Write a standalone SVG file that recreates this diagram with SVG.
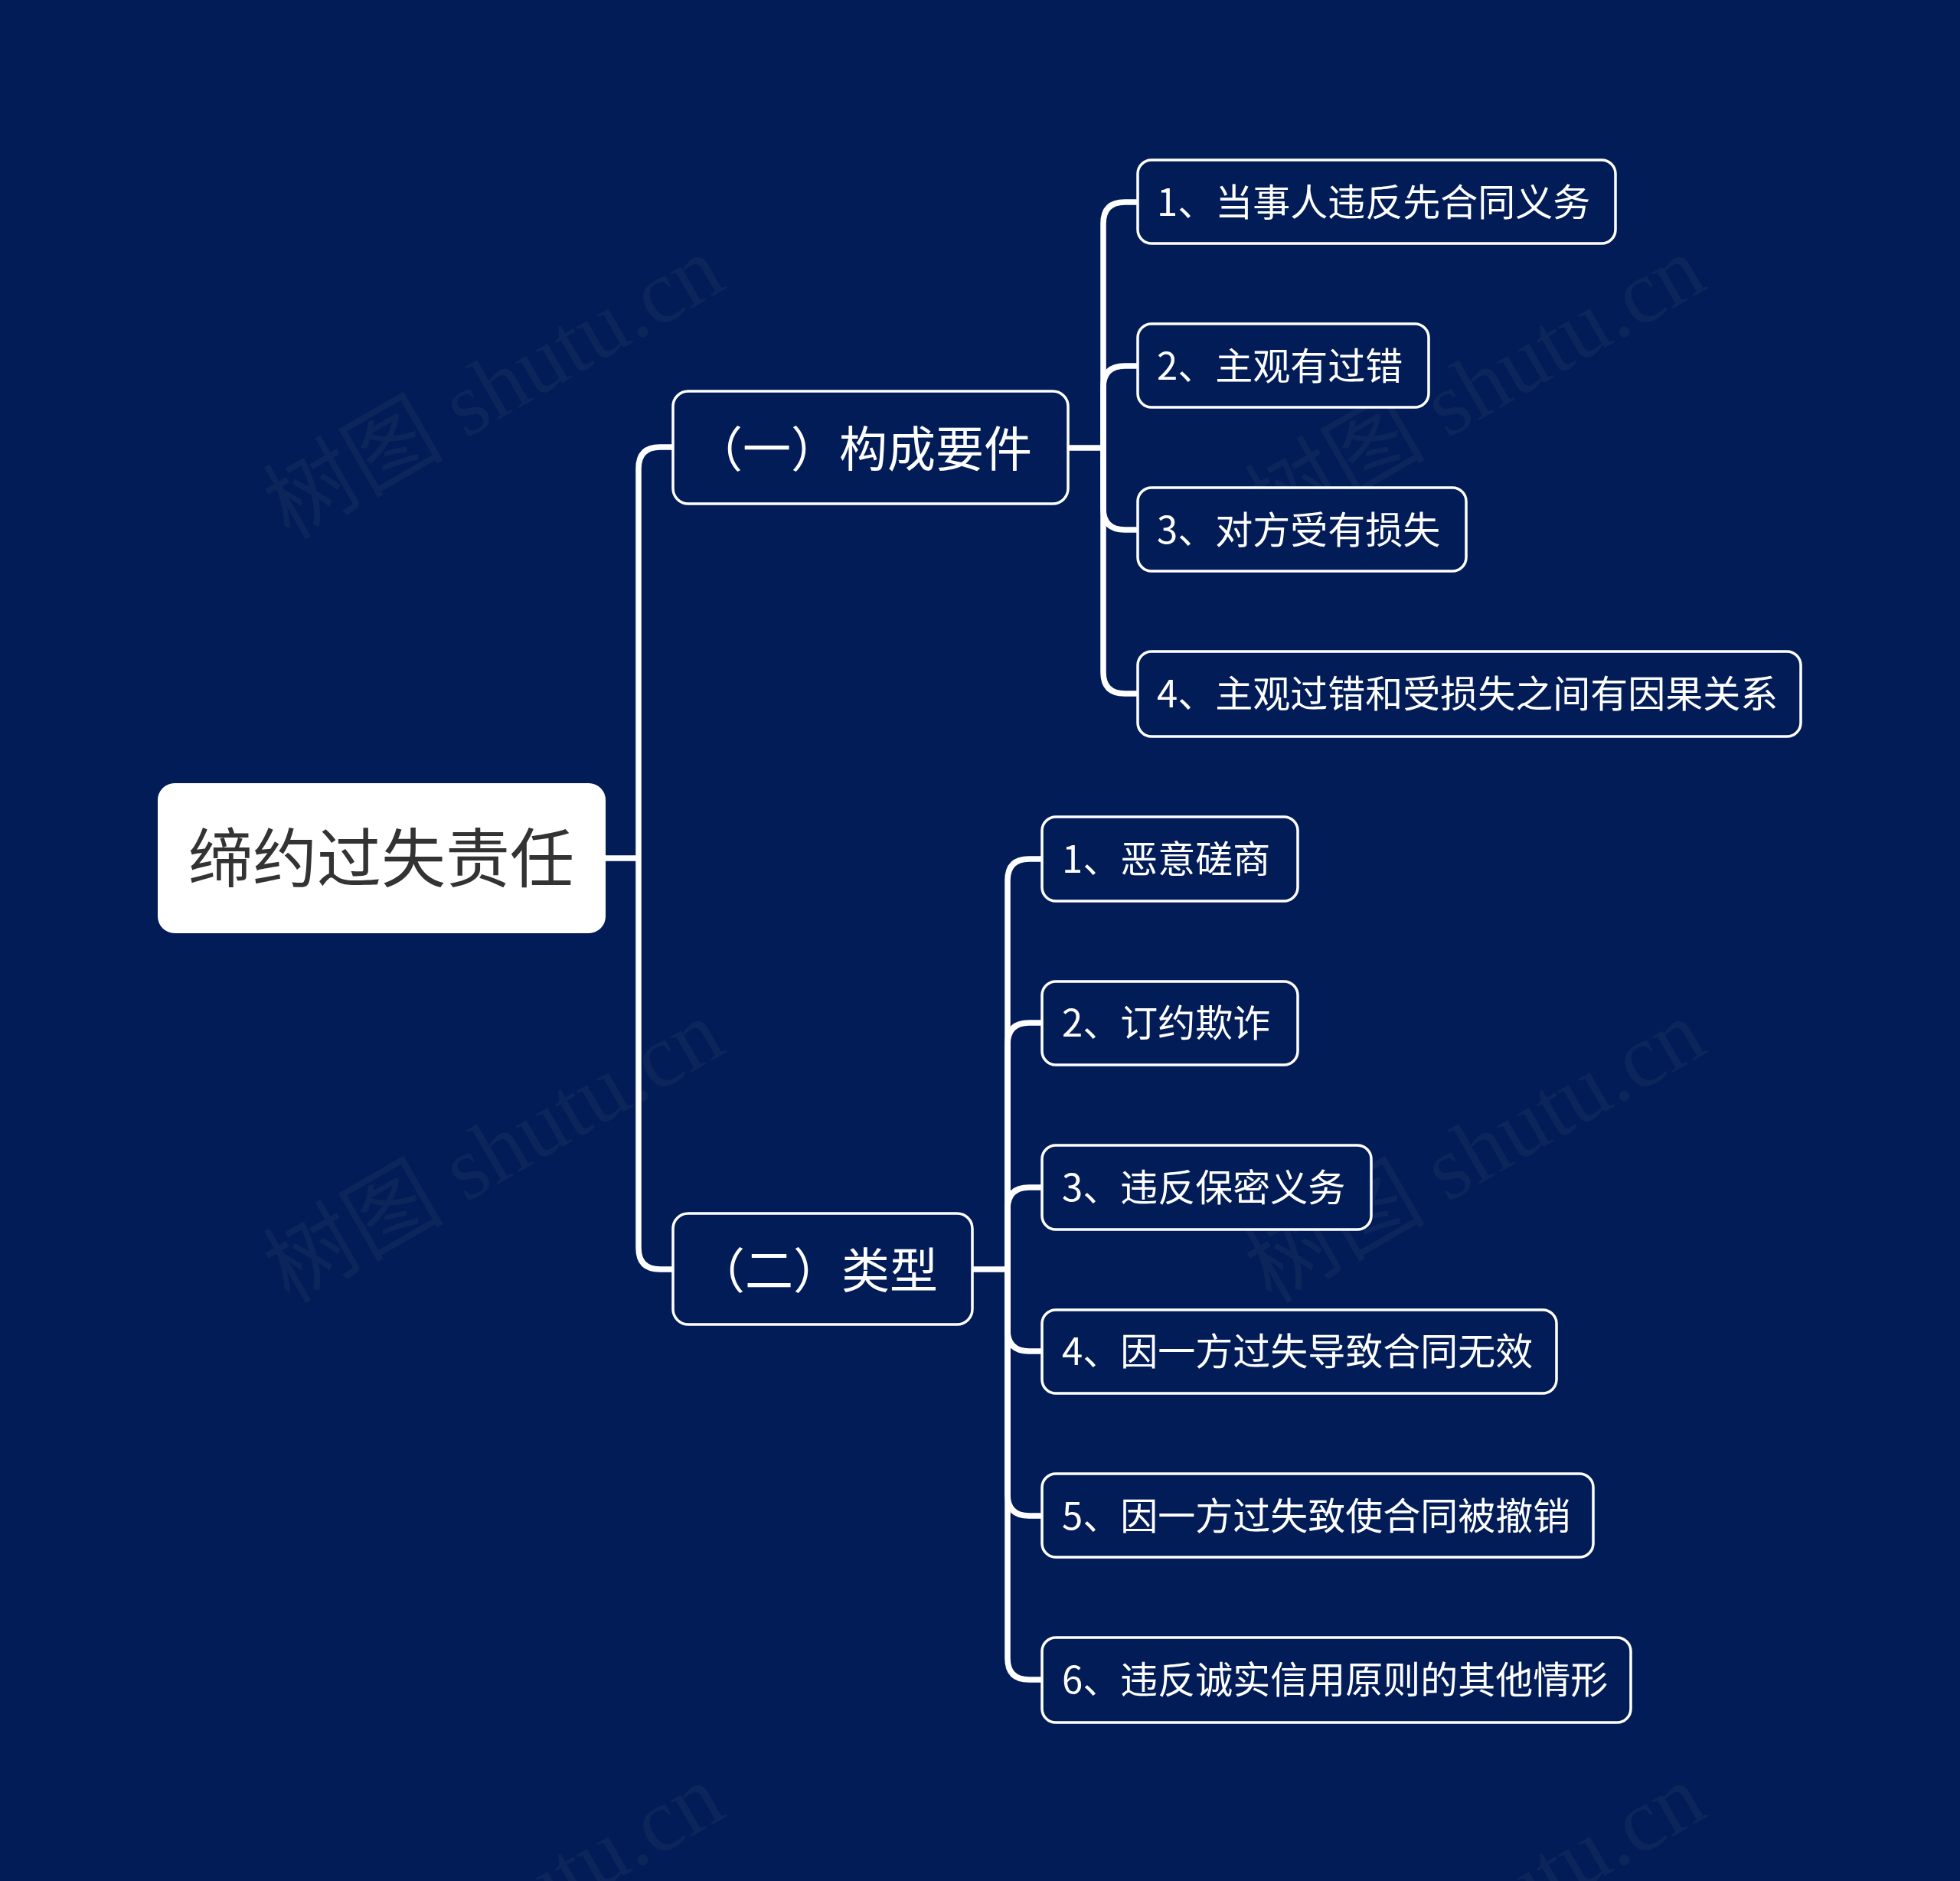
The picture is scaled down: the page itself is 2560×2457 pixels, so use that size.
<svg xmlns="http://www.w3.org/2000/svg" width="2560" height="2457" viewBox="0 0 2560 2457">
<style>
.wm{font-family:"Liberation Serif","Noto Sans CJK SC",serif;font-size:118px;fill:#808080;fill-opacity:0.09}
.box{fill:#011c57;stroke:#ffffff;stroke-width:3.5}
.t{font-family:"Noto Sans CJK SC","Noto Sans",sans-serif;fill:#ffffff}
.t1{font-size:63px}
.t2{font-size:49px}
.root{fill:#ffffff}
.rt{font-family:"Noto Sans CJK SC","Noto Sans",sans-serif;font-size:84px;fill:#333333}
.c{fill:none;stroke:#ffffff;stroke-width:7.5;stroke-linejoin:round}
</style>
<rect width="2560" height="2457" fill="#011c57"/>
<g id="watermarks">
<text class="wm" transform="translate(378,706) rotate(-30)">树图 shutu.cn</text>
<text class="wm" transform="translate(1660,706) rotate(-30)">树图 shutu.cn</text>
<text class="wm" transform="translate(378,1704) rotate(-30)">树图 shutu.cn</text>
<text class="wm" transform="translate(1660,1704) rotate(-30)">树图 shutu.cn</text>
<text class="wm" transform="translate(378,2702) rotate(-30)">树图 shutu.cn</text>
<text class="wm" transform="translate(1660,2702) rotate(-30)">树图 shutu.cn</text>
</g>
<g id="connectors">
<path class="c" d="M791,1121 H834"/>
<path class="c" d="M834,1121 V612 Q834,584 862,584 H880"/>
<path class="c" d="M834,1121 V1630 Q834,1658 862,1658 H880"/>
<path class="c" d="M1395,585 H1441"/>
<path class="c" d="M1441,585 V292 Q1441,264 1469,264 H1487"/>
<path class="c" d="M1441,585 V506 Q1441,478 1469,478 H1487"/>
<path class="c" d="M1441,585 V664 Q1441,692 1469,692 H1487"/>
<path class="c" d="M1441,585 V878 Q1441,906 1469,906 H1487"/>
<path class="c" d="M1270,1658 H1316"/>
<path class="c" d="M1316,1658 V1150 Q1316,1122 1344,1122 H1362"/>
<path class="c" d="M1316,1658 V1364 Q1316,1336 1344,1336 H1362"/>
<path class="c" d="M1316,1658 V1579 Q1316,1551 1344,1551 H1362"/>
<path class="c" d="M1316,1658 V1737 Q1316,1765 1344,1765 H1362"/>
<path class="c" d="M1316,1658 V1952 Q1316,1980 1344,1980 H1362"/>
<path class="c" d="M1316,1658 V2166 Q1316,2194 1344,2194 H1362"/>
</g>
<g id="root">
<rect class="root" x="206" y="1023" width="585" height="196" rx="22"/>
<text class="rt" x="498" y="1152" text-anchor="middle">缔约过失责任</text>
</g>
<g id="b1">
<rect class="box" x="879" y="511" width="516" height="147" rx="20"/>
<text class="t t1" x="907" y="609">（一）构成要件</text>
</g>
<g id="b2">
<rect class="box" x="879" y="1585" width="391" height="145" rx="20"/>
<text class="t t1" x="910" y="1682">（二）类型</text>
</g>
<g id="b1c1">
<rect class="box" x="1486" y="209" width="624" height="109" rx="18"/>
<text class="t t2" x="1511" y="282">1、当事人违反先合同义务</text>
</g>
<g id="b1c2">
<rect class="box" x="1486" y="423" width="380" height="109" rx="18"/>
<text class="t t2" x="1511" y="496">2、主观有过错</text>
</g>
<g id="b1c3">
<rect class="box" x="1486" y="637" width="429" height="109" rx="18"/>
<text class="t t2" x="1511" y="710">3、对方受有损失</text>
</g>
<g id="b1c4">
<rect class="box" x="1486" y="851" width="866" height="111" rx="18"/>
<text class="t t2" x="1511" y="924">4、主观过错和受损失之间有因果关系</text>
</g>
<g id="b2c1">
<rect class="box" x="1361" y="1067" width="334" height="110" rx="18"/>
<text class="t t2" x="1387" y="1140">1、恶意磋商</text>
</g>
<g id="b2c2">
<rect class="box" x="1361" y="1282" width="334" height="109" rx="18"/>
<text class="t t2" x="1387" y="1354">2、订约欺诈</text>
</g>
<g id="b2c3">
<rect class="box" x="1361" y="1496" width="430" height="110" rx="18"/>
<text class="t t2" x="1387" y="1569">3、违反保密义务</text>
</g>
<g id="b2c4">
<rect class="box" x="1361" y="1711" width="672" height="109" rx="18"/>
<text class="t t2" x="1387" y="1783">4、因一方过失导致合同无效</text>
</g>
<g id="b2c5">
<rect class="box" x="1361" y="1925" width="720" height="109" rx="18"/>
<text class="t t2" x="1387" y="1998">5、因一方过失致使合同被撤销</text>
</g>
<g id="b2c6">
<rect class="box" x="1361" y="2139" width="769" height="111" rx="18"/>
<text class="t t2" x="1387" y="2212">6、违反诚实信用原则的其他情形</text>
</g>
</svg>
